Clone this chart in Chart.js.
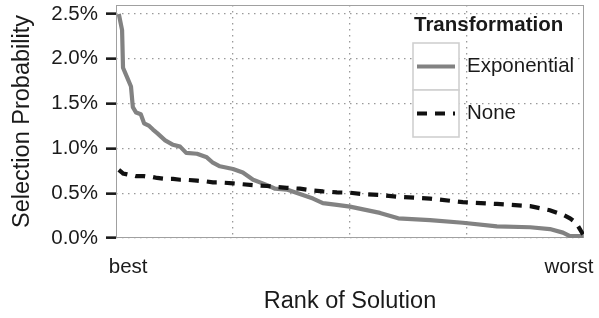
<!DOCTYPE html>
<html>
<head>
<meta charset="utf-8">
<script src="https://cdn.jsdelivr.net/npm/chart.js@4/dist/chart.umd.min.js"></script>
<style>
  html, body { margin: 0; padding: 0; background: #ffffff; }
  #wrap { width: 599px; height: 318px; }
</style>
</head>
<body>
<div id="wrap"><canvas id="c" width="599" height="318"></canvas></div>
<script>
// ---- data ----
const rankPct = [0.6,1.3,1.5,2.4,3.2,3.6,4.3,5.3,6.0,7.1,7.9,8.8,10.5,12.2,13.7,15.0,17.3,19.4,20.7,22.2,25.0,27.1,29.3,32.3,34.0,36.5,39.3,42.1,44.2,47.2,50.0,52.8,56.4,60.3,67.1,74.1,81.4,88.5,92.7,95.5,97.0,98.3,99.8];
const exponentialProb = [2.50,2.32,1.90,1.79,1.69,1.46,1.40,1.38,1.28,1.25,1.21,1.17,1.09,1.04,1.02,0.95,0.94,0.90,0.84,0.80,0.77,0.73,0.65,0.59,0.55,0.54,0.49,0.44,0.39,0.37,0.35,0.32,0.28,0.22,0.20,0.17,0.13,0.12,0.10,0.06,0.02,0.02,0.02];
const noneProb = [0.76,0.73,0.72,0.71,0.70,0.70,0.69,0.69,0.69,0.68,0.68,0.67,0.66,0.66,0.65,0.65,0.64,0.63,0.62,0.62,0.61,0.60,0.59,0.58,0.57,0.56,0.55,0.53,0.52,0.51,0.505,0.49,0.48,0.46,0.44,0.40,0.38,0.355,0.31,0.26,0.22,0.17,0.04];
const seriesNames = ['Exponential', 'None'];
const legendTitle = 'Transformation';
const yTicks = [0, 0.5, 1.0, 1.5, 2.0, 2.5];
const xGridPositions = [25, 50, 75];
const xLabelPositions = [2.6, 96.8];
const xLabels = ['best', 'worst'];
const xTitle = 'Rank of Solution';
const yTitle = 'Selection Probability';

const FONT = "'Liberation Sans', Arial, Helvetica, sans-serif";
const GRID = '#9a9a9a';

function pts(xs, ys) { return xs.map((x, i) => ({ x: x, y: ys[i] })); }
function noPad(scale) {
  scale.paddingTop = 0; scale.paddingBottom = 0;
  scale.paddingLeft = 0; scale.paddingRight = 0;
}

const legendPlugin = {
  id: 'customLegend',
  afterDraw(chart) {
    const ctx = chart.ctx;
    const ca = chart.chartArea;
    const x0 = ca.right - 171;
    const y0 = ca.top;
    ctx.save();
    ctx.fillStyle = '#1a1a1a';
    ctx.font = 'bold 20.5px ' + FONT;
    ctx.textAlign = 'left';
    ctx.textBaseline = 'middle';
    ctx.fillText(legendTitle, x0 + 1, y0 + 20);
    const boxW = 46, boxH = 47;
    chart.data.datasets.forEach((ds, i) => {
      const by = y0 + 38 + i * boxH;
      ctx.fillStyle = '#ffffff';
      ctx.fillRect(x0, by, boxW, boxH);
      ctx.strokeStyle = '#d0d0d0';
      ctx.lineWidth = 1.6;
      ctx.setLineDash([]);
      ctx.strokeRect(x0, by, boxW, boxH);
      ctx.beginPath();
      ctx.strokeStyle = ds.borderColor;
      ctx.lineWidth = ds.borderWidth;
      ctx.setLineDash(ds.borderDash || []);
      ctx.lineCap = 'butt';
      ctx.moveTo(x0 + 4, by + boxH / 2);
      ctx.lineTo(x0 + boxW - 4, by + boxH / 2);
      ctx.stroke();
      ctx.setLineDash([]);
      ctx.fillStyle = '#1a1a1a';
      ctx.font = '20.5px ' + FONT;
      ctx.fillText(ds.label, x0 + 54, by + boxH / 2);
    });
    ctx.restore();
  }
};

const borderPlugin = {
  id: 'panelBorder',
  beforeDatasetsDraw(chart) {
    const ctx = chart.ctx;
    const ca = chart.chartArea;
    ctx.save();
    ctx.strokeStyle = '#a0a0a0';
    ctx.lineWidth = 1;
    ctx.strokeRect(Math.round(ca.left) + 0.5, Math.round(ca.top) + 0.5,
                   Math.round(ca.right - ca.left) - 1, Math.round(ca.bottom - ca.top) - 1);
    ctx.restore();
  }
};

new Chart(document.getElementById('c'), {
  type: 'line',
  data: {
    datasets: [
      {
        label: seriesNames[0],
        data: pts(rankPct, exponentialProb),
        borderColor: '#828282',
        borderWidth: 4.2,
        borderJoinStyle: 'round',
        pointRadius: 0,
        tension: 0,
        fill: false,
        order: 1
      },
      {
        label: seriesNames[1],
        data: pts(rankPct, noneProb),
        borderColor: '#111111',
        borderWidth: 4.2,
        borderDash: [10, 8],
        borderCapStyle: 'butt',
        pointRadius: 0,
        tension: 0,
        fill: false,
        order: 0
      }
    ]
  },
  options: {
    responsive: false,
    devicePixelRatio: 1,
    animation: false,
    events: [],
    layout: { autoPadding: false, padding: { top: 5, right: 15, left: 0, bottom: 0 } },
    plugins: { legend: { display: false }, tooltip: { enabled: false } },
    scales: {
      x: {
        type: 'linear',
        min: 0,
        max: 100,
        afterBuildTicks(scale) {
          const vals = [xLabelPositions[0], ...xGridPositions, xLabelPositions[1]];
          scale.ticks = vals.map(v => ({ value: v }));
        },
        afterFit(scale) { scale.height = 80; noPad(scale); },
        ticks: {
          autoSkip: false,
          maxRotation: 0,
          padding: 17,
          color: '#1a1a1a',
          font: { family: FONT, size: 20.5 },
          callback(value) {
            const i = xLabelPositions.indexOf(value);
            return i >= 0 ? xLabels[i] : '';
          }
        },
        grid: {
          drawTicks: false,
          lineWidth: 1.3,
          color(ctx) {
            return (ctx.tick && xGridPositions.includes(ctx.tick.value)) ? GRID : 'rgba(0,0,0,0)';
          }
        },
        border: { display: false, dash: [1.5, 4.5] },
        title: {
          display: true,
          text: xTitle,
          color: '#1a1a1a',
          font: { family: FONT, size: 23.5, lineHeight: 1.2 },
          padding: { top: 0, bottom: 2 }
        }
      },
      y: {
        type: 'linear',
        min: 0,
        max: 2.6,
        afterBuildTicks(scale) {
          scale.ticks = yTicks.map(v => ({ value: v }));
        },
        afterFit(scale) { scale.width = 116; noPad(scale); },
        ticks: {
          padding: 8,
          color: '#1a1a1a',
          font: { family: FONT, size: 20.5 },
          callback(value) { return value.toFixed(1) + '%'; }
        },
        grid: {
          lineWidth: 1.3,
          color: GRID,
          tickLength: 10,
          tickWidth: 2.6,
          tickColor: '#1a1a1a',
          tickBorderDash: []
        },
        border: { display: false, dash: [1.5, 4.5] },
        title: {
          display: true,
          text: yTitle,
          color: '#1a1a1a',
          font: { family: FONT, size: 23.5, lineHeight: 1.2 },
          padding: { top: 8, bottom: 0 }
        }
      }
    }
  },
  plugins: [borderPlugin, legendPlugin]
});
</script>
</body>
</html>
